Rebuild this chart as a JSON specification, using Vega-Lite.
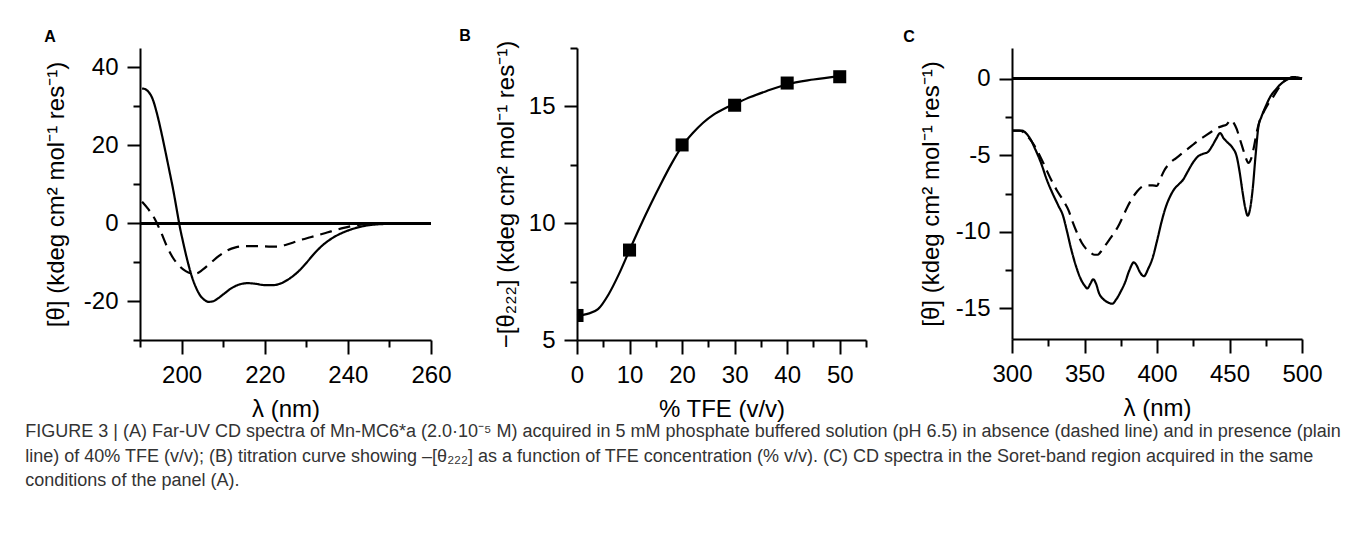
{
  "$schema": "https://vega.github.io/schema/vega-lite/v6.json",
  "background": "white",
  "padding": {"left": 25, "top": 28, "right": 0, "bottom": 0},
  "datasets": {
    "farUV": [
      {"lambda": 190.5, "theta": 34.6, "series": "40% TFE"},
      {"lambda": 191.3, "theta": 34.4, "series": "40% TFE"},
      {"lambda": 192.0, "theta": 33.8, "series": "40% TFE"},
      {"lambda": 193.0, "theta": 32.0, "series": "40% TFE"},
      {"lambda": 194.0, "theta": 28.5, "series": "40% TFE"},
      {"lambda": 195.0, "theta": 24.0, "series": "40% TFE"},
      {"lambda": 196.0, "theta": 19.0, "series": "40% TFE"},
      {"lambda": 197.0, "theta": 13.8, "series": "40% TFE"},
      {"lambda": 198.0, "theta": 8.5, "series": "40% TFE"},
      {"lambda": 199.0, "theta": 2.5, "series": "40% TFE"},
      {"lambda": 199.5, "theta": -0.5, "series": "40% TFE"},
      {"lambda": 200.5, "theta": -5.5, "series": "40% TFE"},
      {"lambda": 201.5, "theta": -10.0, "series": "40% TFE"},
      {"lambda": 202.5, "theta": -13.8, "series": "40% TFE"},
      {"lambda": 203.5, "theta": -16.6, "series": "40% TFE"},
      {"lambda": 204.5, "theta": -18.6, "series": "40% TFE"},
      {"lambda": 205.5, "theta": -19.7, "series": "40% TFE"},
      {"lambda": 206.5, "theta": -20.2, "series": "40% TFE"},
      {"lambda": 207.5, "theta": -20.1, "series": "40% TFE"},
      {"lambda": 208.5, "theta": -19.5, "series": "40% TFE"},
      {"lambda": 210, "theta": -18.3, "series": "40% TFE"},
      {"lambda": 212, "theta": -16.7, "series": "40% TFE"},
      {"lambda": 214, "theta": -15.7, "series": "40% TFE"},
      {"lambda": 216, "theta": -15.4, "series": "40% TFE"},
      {"lambda": 218, "theta": -15.6, "series": "40% TFE"},
      {"lambda": 220, "theta": -15.9, "series": "40% TFE"},
      {"lambda": 222, "theta": -15.9, "series": "40% TFE"},
      {"lambda": 224, "theta": -15.4, "series": "40% TFE"},
      {"lambda": 226, "theta": -14.2, "series": "40% TFE"},
      {"lambda": 228, "theta": -12.5, "series": "40% TFE"},
      {"lambda": 230, "theta": -10.2, "series": "40% TFE"},
      {"lambda": 232, "theta": -7.7, "series": "40% TFE"},
      {"lambda": 234, "theta": -5.6, "series": "40% TFE"},
      {"lambda": 236, "theta": -4.0, "series": "40% TFE"},
      {"lambda": 238, "theta": -2.8, "series": "40% TFE"},
      {"lambda": 240, "theta": -1.9, "series": "40% TFE"},
      {"lambda": 242, "theta": -1.2, "series": "40% TFE"},
      {"lambda": 244, "theta": -0.7, "series": "40% TFE"},
      {"lambda": 246, "theta": -0.4, "series": "40% TFE"},
      {"lambda": 250, "theta": -0.15, "series": "40% TFE"},
      {"lambda": 255, "theta": -0.05, "series": "40% TFE"},
      {"lambda": 260, "theta": 0, "series": "40% TFE"},
      {"lambda": 190.5, "theta": 5.5, "series": "0% TFE"},
      {"lambda": 192, "theta": 3.6, "series": "0% TFE"},
      {"lambda": 193.5, "theta": 1.2, "series": "0% TFE"},
      {"lambda": 195, "theta": -2.2, "series": "0% TFE"},
      {"lambda": 196.5, "theta": -6.0, "series": "0% TFE"},
      {"lambda": 198, "theta": -9.0, "series": "0% TFE"},
      {"lambda": 199.5, "theta": -11.0, "series": "0% TFE"},
      {"lambda": 201, "theta": -12.3, "series": "0% TFE"},
      {"lambda": 202.5, "theta": -12.9, "series": "0% TFE"},
      {"lambda": 203.5, "theta": -12.9, "series": "0% TFE"},
      {"lambda": 205, "theta": -12.0, "series": "0% TFE"},
      {"lambda": 207, "theta": -10.2, "series": "0% TFE"},
      {"lambda": 209, "theta": -8.4, "series": "0% TFE"},
      {"lambda": 211, "theta": -7.0, "series": "0% TFE"},
      {"lambda": 213, "theta": -6.2, "series": "0% TFE"},
      {"lambda": 215, "theta": -5.9, "series": "0% TFE"},
      {"lambda": 218, "theta": -5.9, "series": "0% TFE"},
      {"lambda": 221, "theta": -6.0, "series": "0% TFE"},
      {"lambda": 223, "theta": -6.0, "series": "0% TFE"},
      {"lambda": 225, "theta": -5.6, "series": "0% TFE"},
      {"lambda": 227, "theta": -4.9, "series": "0% TFE"},
      {"lambda": 229, "theta": -4.2, "series": "0% TFE"},
      {"lambda": 231, "theta": -3.6, "series": "0% TFE"},
      {"lambda": 233, "theta": -3.0, "series": "0% TFE"},
      {"lambda": 235, "theta": -2.4, "series": "0% TFE"},
      {"lambda": 237, "theta": -1.8, "series": "0% TFE"},
      {"lambda": 239, "theta": -1.2, "series": "0% TFE"},
      {"lambda": 241, "theta": -0.7, "series": "0% TFE"},
      {"lambda": 243, "theta": -0.35, "series": "0% TFE"},
      {"lambda": 245, "theta": -0.15, "series": "0% TFE"},
      {"lambda": 250, "theta": -0.05, "series": "0% TFE"},
      {"lambda": 260, "theta": 0, "series": "0% TFE"}
    ],
    "titration": [
      {"tfe": 0, "theta222": 6.05},
      {"tfe": 10, "theta222": 8.85},
      {"tfe": 20, "theta222": 13.35},
      {"tfe": 30, "theta222": 15.05},
      {"tfe": 40, "theta222": 16.0},
      {"tfe": 50, "theta222": 16.27}
    ],
    "titrationFit": [
      {"tfe": 0, "fit": 6.05},
      {"tfe": 2, "fit": 6.12},
      {"tfe": 4, "fit": 6.32},
      {"tfe": 6, "fit": 6.95},
      {"tfe": 8, "fit": 7.83},
      {"tfe": 10, "fit": 8.85},
      {"tfe": 12, "fit": 9.85},
      {"tfe": 14, "fit": 10.8},
      {"tfe": 16, "fit": 11.7},
      {"tfe": 18, "fit": 12.55},
      {"tfe": 20, "fit": 13.3},
      {"tfe": 22, "fit": 13.85},
      {"tfe": 24, "fit": 14.3},
      {"tfe": 26, "fit": 14.65},
      {"tfe": 28, "fit": 14.9},
      {"tfe": 30, "fit": 15.1},
      {"tfe": 33, "fit": 15.4},
      {"tfe": 36, "fit": 15.65},
      {"tfe": 40, "fit": 15.95},
      {"tfe": 45, "fit": 16.15},
      {"tfe": 50, "fit": 16.3}
    ],
    "soret": [
      {"lambda": 300, "theta": -3.4, "series": "40% TFE"},
      {"lambda": 304, "theta": -3.4, "series": "40% TFE"},
      {"lambda": 307, "theta": -3.4, "series": "40% TFE"},
      {"lambda": 310, "theta": -3.6, "series": "40% TFE"},
      {"lambda": 313, "theta": -4.0, "series": "40% TFE"},
      {"lambda": 316, "theta": -4.6, "series": "40% TFE"},
      {"lambda": 320, "theta": -5.5, "series": "40% TFE"},
      {"lambda": 324, "theta": -6.6, "series": "40% TFE"},
      {"lambda": 328, "theta": -7.5, "series": "40% TFE"},
      {"lambda": 332, "theta": -8.3, "series": "40% TFE"},
      {"lambda": 335, "theta": -8.9, "series": "40% TFE"},
      {"lambda": 338, "theta": -10.0, "series": "40% TFE"},
      {"lambda": 341, "theta": -11.2, "series": "40% TFE"},
      {"lambda": 344, "theta": -12.2, "series": "40% TFE"},
      {"lambda": 347, "theta": -13.0, "series": "40% TFE"},
      {"lambda": 350, "theta": -13.5, "series": "40% TFE"},
      {"lambda": 352, "theta": -13.7, "series": "40% TFE"},
      {"lambda": 354, "theta": -13.4, "series": "40% TFE"},
      {"lambda": 356, "theta": -13.1, "series": "40% TFE"},
      {"lambda": 358, "theta": -13.4, "series": "40% TFE"},
      {"lambda": 360, "theta": -14.0, "series": "40% TFE"},
      {"lambda": 363, "theta": -14.4, "series": "40% TFE"},
      {"lambda": 366, "theta": -14.6, "series": "40% TFE"},
      {"lambda": 369, "theta": -14.7, "series": "40% TFE"},
      {"lambda": 372, "theta": -14.4, "series": "40% TFE"},
      {"lambda": 375, "theta": -13.9, "series": "40% TFE"},
      {"lambda": 378, "theta": -13.3, "series": "40% TFE"},
      {"lambda": 381, "theta": -12.5, "series": "40% TFE"},
      {"lambda": 384, "theta": -12.0, "series": "40% TFE"},
      {"lambda": 386, "theta": -12.2, "series": "40% TFE"},
      {"lambda": 388, "theta": -12.6, "series": "40% TFE"},
      {"lambda": 391, "theta": -12.9, "series": "40% TFE"},
      {"lambda": 394, "theta": -12.4, "series": "40% TFE"},
      {"lambda": 397, "theta": -11.7, "series": "40% TFE"},
      {"lambda": 400, "theta": -10.6, "series": "40% TFE"},
      {"lambda": 403, "theta": -9.4, "series": "40% TFE"},
      {"lambda": 406, "theta": -8.4, "series": "40% TFE"},
      {"lambda": 409, "theta": -7.7, "series": "40% TFE"},
      {"lambda": 412, "theta": -7.2, "series": "40% TFE"},
      {"lambda": 415, "theta": -6.9, "series": "40% TFE"},
      {"lambda": 418, "theta": -6.6, "series": "40% TFE"},
      {"lambda": 421, "theta": -6.1, "series": "40% TFE"},
      {"lambda": 424, "theta": -5.6, "series": "40% TFE"},
      {"lambda": 428, "theta": -5.1, "series": "40% TFE"},
      {"lambda": 432, "theta": -4.9, "series": "40% TFE"},
      {"lambda": 435, "theta": -4.8, "series": "40% TFE"},
      {"lambda": 438, "theta": -4.4, "series": "40% TFE"},
      {"lambda": 441, "theta": -3.9, "series": "40% TFE"},
      {"lambda": 443.5, "theta": -3.55, "series": "40% TFE"},
      {"lambda": 446, "theta": -3.9, "series": "40% TFE"},
      {"lambda": 449, "theta": -4.2, "series": "40% TFE"},
      {"lambda": 452, "theta": -4.5, "series": "40% TFE"},
      {"lambda": 455, "theta": -5.1, "series": "40% TFE"},
      {"lambda": 457, "theta": -6.1, "series": "40% TFE"},
      {"lambda": 459, "theta": -7.4, "series": "40% TFE"},
      {"lambda": 461, "theta": -8.5, "series": "40% TFE"},
      {"lambda": 462.5, "theta": -8.95, "series": "40% TFE"},
      {"lambda": 464, "theta": -8.6, "series": "40% TFE"},
      {"lambda": 466, "theta": -7.2, "series": "40% TFE"},
      {"lambda": 468, "theta": -5.0, "series": "40% TFE"},
      {"lambda": 470, "theta": -3.1, "series": "40% TFE"},
      {"lambda": 472, "theta": -2.5, "series": "40% TFE"},
      {"lambda": 475, "theta": -1.8, "series": "40% TFE"},
      {"lambda": 478, "theta": -1.2, "series": "40% TFE"},
      {"lambda": 482, "theta": -0.7, "series": "40% TFE"},
      {"lambda": 486, "theta": -0.3, "series": "40% TFE"},
      {"lambda": 490, "theta": -0.05, "series": "40% TFE"},
      {"lambda": 494, "theta": 0.1, "series": "40% TFE"},
      {"lambda": 497, "theta": 0.08, "series": "40% TFE"},
      {"lambda": 500, "theta": 0, "series": "40% TFE"},
      {"lambda": 300, "theta": -3.4, "series": "0% TFE"},
      {"lambda": 305, "theta": -3.4, "series": "0% TFE"},
      {"lambda": 308, "theta": -3.5, "series": "0% TFE"},
      {"lambda": 311, "theta": -3.8, "series": "0% TFE"},
      {"lambda": 315, "theta": -4.3, "series": "0% TFE"},
      {"lambda": 319, "theta": -5.0, "series": "0% TFE"},
      {"lambda": 323, "theta": -5.8, "series": "0% TFE"},
      {"lambda": 327, "theta": -6.6, "series": "0% TFE"},
      {"lambda": 331, "theta": -7.3, "series": "0% TFE"},
      {"lambda": 335, "theta": -7.9, "series": "0% TFE"},
      {"lambda": 339, "theta": -8.6, "series": "0% TFE"},
      {"lambda": 342, "theta": -9.4, "series": "0% TFE"},
      {"lambda": 345, "theta": -10.1, "series": "0% TFE"},
      {"lambda": 348, "theta": -10.7, "series": "0% TFE"},
      {"lambda": 351, "theta": -11.1, "series": "0% TFE"},
      {"lambda": 354, "theta": -11.35, "series": "0% TFE"},
      {"lambda": 357, "theta": -11.5, "series": "0% TFE"},
      {"lambda": 359, "theta": -11.5, "series": "0% TFE"},
      {"lambda": 362, "theta": -11.2, "series": "0% TFE"},
      {"lambda": 365, "theta": -10.8, "series": "0% TFE"},
      {"lambda": 368, "theta": -10.4, "series": "0% TFE"},
      {"lambda": 371, "theta": -10.0, "series": "0% TFE"},
      {"lambda": 374, "theta": -9.5, "series": "0% TFE"},
      {"lambda": 377, "theta": -8.9, "series": "0% TFE"},
      {"lambda": 380, "theta": -8.3, "series": "0% TFE"},
      {"lambda": 383, "theta": -7.8, "series": "0% TFE"},
      {"lambda": 386, "theta": -7.4, "series": "0% TFE"},
      {"lambda": 389, "theta": -7.1, "series": "0% TFE"},
      {"lambda": 393, "theta": -6.97, "series": "0% TFE"},
      {"lambda": 397, "theta": -6.97, "series": "0% TFE"},
      {"lambda": 400, "theta": -7.0, "series": "0% TFE"},
      {"lambda": 402, "theta": -6.6, "series": "0% TFE"},
      {"lambda": 405, "theta": -6.0, "series": "0% TFE"},
      {"lambda": 409, "theta": -5.5, "series": "0% TFE"},
      {"lambda": 413, "theta": -5.2, "series": "0% TFE"},
      {"lambda": 417, "theta": -4.9, "series": "0% TFE"},
      {"lambda": 421, "theta": -4.6, "series": "0% TFE"},
      {"lambda": 425, "theta": -4.3, "series": "0% TFE"},
      {"lambda": 429, "theta": -4.0, "series": "0% TFE"},
      {"lambda": 433, "theta": -3.75, "series": "0% TFE"},
      {"lambda": 437, "theta": -3.5, "series": "0% TFE"},
      {"lambda": 441, "theta": -3.25, "series": "0% TFE"},
      {"lambda": 445, "theta": -3.1, "series": "0% TFE"},
      {"lambda": 448, "theta": -3.0, "series": "0% TFE"},
      {"lambda": 451, "theta": -2.7, "series": "0% TFE"},
      {"lambda": 453, "theta": -2.9, "series": "0% TFE"},
      {"lambda": 455, "theta": -3.3, "series": "0% TFE"},
      {"lambda": 457, "theta": -3.9, "series": "0% TFE"},
      {"lambda": 459, "theta": -4.5, "series": "0% TFE"},
      {"lambda": 461, "theta": -5.1, "series": "0% TFE"},
      {"lambda": 463, "theta": -5.5, "series": "0% TFE"},
      {"lambda": 465, "theta": -5.2, "series": "0% TFE"},
      {"lambda": 467, "theta": -4.4, "series": "0% TFE"},
      {"lambda": 469, "theta": -3.4, "series": "0% TFE"},
      {"lambda": 471, "theta": -2.7, "series": "0% TFE"},
      {"lambda": 474, "theta": -2.1, "series": "0% TFE"},
      {"lambda": 477, "theta": -1.6, "series": "0% TFE"},
      {"lambda": 480, "theta": -1.2, "series": "0% TFE"},
      {"lambda": 484, "theta": -0.6, "series": "0% TFE"},
      {"lambda": 488, "theta": -0.15, "series": "0% TFE"},
      {"lambda": 492, "theta": 0.05, "series": "0% TFE"},
      {"lambda": 495, "theta": 0.1, "series": "0% TFE"},
      {"lambda": 498, "theta": 0.05, "series": "0% TFE"},
      {"lambda": 500, "theta": 0, "series": "0% TFE"}
    ]
  },
  "title": {
    "text": [
      "FIGURE 3 | (A) Far-UV CD spectra of Mn-MC6*a (2.0·10⁻⁵ M) acquired in 5 mM phosphate buffered solution (pH 6.5) in absence (dashed line) and in presence (plain",
      "line) of 40% TFE (v/v); (B) titration curve showing –[θ₂₂₂] as a function of TFE concentration (% v/v). (C) CD spectra in the Soret-band region acquired in the same",
      "conditions of the panel (A)."
    ],
    "orient": "bottom",
    "anchor": "start",
    "frame": "bounds",
    "font": "Liberation Sans",
    "fontSize": 18,
    "fontWeight": "normal",
    "color": "#333333",
    "lineHeight": 24.5,
    "offset": 2,
    "dx": -19
  },
  "spacing": 146,
  "bounds": "flush",
  "hconcat": [
    {
      "width": 291,
      "height": 292,
      "title": {"text": "A", "anchor": "start", "frame": "bounds", "fontSize": 16, "fontWeight": "bold", "offset": 3, "dx": 0},
      "data": {"name": "farUV"},
      "resolve": {"axis": {"x": "independent", "y": "independent"}},
      "layer": [
        {
          "mark": {"type": "rule", "color": "#000", "strokeWidth": 2},
          "encoding": {
            "x": {"datum": 190, "type": "quantitative", "scale": {"domain": [190, 260], "nice": false, "zero": false},
              "axis": {"orient": "bottom", "values": [200, 220, 240, 260], "tickSize": 14, "labelPadding": 9, "labelExpr": "toString(datum.value)", "title": "λ  (nm)", "titlePadding": 10}},
            "x2": {"datum": 260},
            "y": {"datum": 0, "type": "quantitative", "scale": {"domain": [-30, 45], "nice": false, "zero": false},
              "axis": {"orient": "left", "values": [-20, 0, 20, 40], "tickSize": 13, "labelPadding": 9, "labelExpr": "toString(datum.value)", "title": "[θ] (kdeg cm² mol⁻¹ res⁻¹)", "titlePadding": 15}}
          }
        },
        {
          "mark": {"type": "line", "color": "#000", "strokeWidth": 2.2, "interpolate": "monotone"},
          "encoding": {
            "x": {"field": "lambda", "type": "quantitative",
              "axis": {"orient": "bottom", "values": [190, 210, 230, 250], "tickSize": 7, "labels": false, "domain": false, "title": null}},
            "y": {"field": "theta", "type": "quantitative",
              "axis": {"orient": "left", "values": [-30, -10, 10, 30], "tickSize": 7, "labels": false, "domain": false, "title": null}},
            "strokeDash": {"field": "series", "type": "nominal", "scale": {"domain": ["40% TFE", "0% TFE"], "range": [[1, 0], [12, 7]]}, "legend": null}
          }
        }
      ]
    },
    {
      "width": 289,
      "height": 292,
      "title": {"text": "B", "anchor": "start", "frame": "bounds", "fontSize": 16, "fontWeight": "bold", "offset": 3, "dx": -35, "dy": 7},
      "resolve": {"axis": {"x": "independent", "y": "independent"}},
      "layer": [
        {
          "data": {"name": "titrationFit"},
          "mark": {"type": "line", "color": "#000", "strokeWidth": 2.2, "interpolate": "monotone"},
          "encoding": {
            "x": {"field": "tfe", "type": "quantitative", "scale": {"domain": [0, 55], "nice": false, "zero": false},
              "axis": {"orient": "bottom", "values": [0, 10, 20, 30, 40, 50], "tickSize": 14, "labelPadding": 9, "labelExpr": "toString(datum.value)", "title": "% TFE (v/v)", "titlePadding": 10}},
            "y": {"field": "fit", "type": "quantitative", "scale": {"domain": [5, 17.5], "nice": false, "zero": false},
              "axis": {"orient": "left", "values": [5, 10, 15], "tickSize": 13, "labelPadding": 9, "labelExpr": "toString(datum.value)", "title": "−[θ₂₂₂] (kdeg cm² mol⁻¹ res⁻¹)", "titlePadding": 10}}
          }
        },
        {
          "data": {"name": "titration"},
          "mark": {"type": "point", "shape": "square", "filled": true, "color": "#000", "opacity": 1, "size": 170, "clip": true},
          "encoding": {
            "x": {"field": "tfe", "type": "quantitative",
              "axis": {"orient": "bottom", "values": [5, 15, 25, 35, 45, 55], "tickSize": 7, "labels": false, "domain": false, "title": null}},
            "y": {"field": "theta222", "type": "quantitative",
              "axis": {"orient": "left", "values": [7.5, 12.5, 17.5], "tickSize": 7, "labels": false, "domain": false, "title": null}}
          }
        }
      ]
    },
    {
      "width": 290,
      "height": 291,
      "title": {"text": "C", "anchor": "start", "frame": "bounds", "fontSize": 16, "fontWeight": "bold", "offset": 3, "dx": -16},
      "data": {"name": "soret"},
      "resolve": {"axis": {"x": "independent", "y": "independent"}},
      "layer": [
        {
          "mark": {"type": "rule", "color": "#000", "strokeWidth": 2},
          "encoding": {
            "x": {"datum": 300, "type": "quantitative", "scale": {"domain": [300, 500], "nice": false, "zero": false},
              "axis": {"orient": "bottom", "values": [300, 350, 400, 450, 500], "tickSize": 14, "labelPadding": 9, "labelExpr": "toString(datum.value)", "title": "λ (nm)", "titlePadding": 10}},
            "x2": {"datum": 500},
            "y": {"datum": 0, "type": "quantitative", "scale": {"domain": [-17, 2], "nice": false, "zero": false},
              "axis": {"orient": "left", "values": [-15, -10, -5, 0], "tickSize": 13, "labelPadding": 9, "labelExpr": "toString(datum.value)", "title": "[θ] (kdeg cm² mol⁻¹ res⁻¹)", "titlePadding": 12}}
          }
        },
        {
          "mark": {"type": "line", "color": "#000", "strokeWidth": 2.2, "interpolate": "monotone"},
          "encoding": {
            "x": {"field": "lambda", "type": "quantitative",
              "axis": {"orient": "bottom", "values": [325, 375, 425, 475], "tickSize": 7, "labels": false, "domain": false, "title": null}},
            "y": {"field": "theta", "type": "quantitative",
              "axis": {"orient": "left", "values": [-12.5, -7.5, -2.5], "tickSize": 7, "labels": false, "domain": false, "title": null}},
            "strokeDash": {"field": "series", "type": "nominal", "scale": {"domain": ["40% TFE", "0% TFE"], "range": [[1, 0], [12, 7]]}, "legend": null}
          }
        }
      ]
    }
  ],
  "config": {
    "font": "Liberation Sans",
    "view": {"stroke": null},
    "axis": {
      "domainColor": "#000",
      "domainWidth": 2,
      "tickColor": "#000",
      "tickWidth": 2,
      "labelColor": "#000",
      "labelFont": "Liberation Sans",
      "labelFontSize": 24,
      "titleFont": "Liberation Sans",
      "titleFontSize": 24,
      "titleFontWeight": "normal",
      "titleColor": "#000",
      "grid": false,
      "labelOverlap": false,
      "labelBound": false,
      "labelFlush": false
    },
    "title": {"color": "#000", "font": "Liberation Sans"}
  }
}
